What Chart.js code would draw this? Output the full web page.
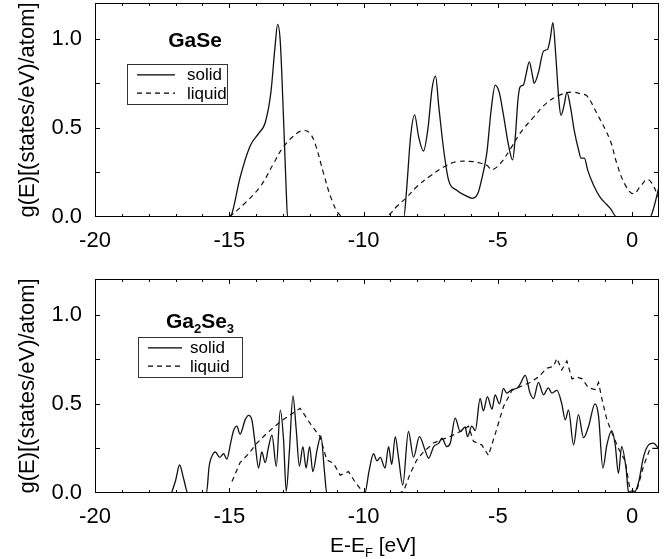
<!DOCTYPE html>
<html><head><meta charset="utf-8">
<script src="https://cdn.jsdelivr.net/npm/chart.js@4"></script>
<style>
html,body{margin:0;padding:0;background:#fff;}
#wrap{position:relative;width:672px;height:559px;overflow:hidden;}
canvas{position:absolute;left:0;}
</style></head><body>
<div id="wrap">
<canvas id="c1" width="672" height="250" style="top:0"></canvas>
<canvas id="c2" width="672" height="309" style="top:250px"></canvas>
</div>
<script>
// ---- tick labels / categories ----
const energyTicks = [-20, -15, -10, -5, 0];
const dosTicks = [0, 0.5, 1.0];
const seriesNames = ['solid', 'liquid'];
const yTitle = 'g(E)[(states/eV)/atom]';

// ---- GaSe, solid ----
const gaseSolidE = [-15.0,-14.9,-14.6,-14.22,-13.9,-13.66,-13.45,-13.3,-13.2,-13.1,-12.98,-12.88,-12.83,
  -8.5,-8.4,-8.25,-8.1,-7.95,-7.77,-7.6,-7.45,-7.32,-7.2,-7.02,-6.84,-6.53,-6.2,-5.95,-5.75,-5.62,-5.41,-5.25,-5.1,-4.95,-4.8,-4.6,-4.45,-4.35,-4.25,-4.17,-4.05,-3.95,-3.83,-3.72,-3.65,-3.49,-3.3,-3.15,-3.05,-2.95,-2.85,-2.72,-2.65,-2.53,-2.43,-2.3,-2.15,-2.0,-1.9,-1.78,-1.65,-1.44,-1.19,-0.95,-0.82,-0.57,
  0.67,0.8,1.0];
const gaseSolidG = [0,0.02,0.22,0.40,0.47,0.53,0.70,0.95,1.08,0.98,0.55,0.15,0,
  0,0.15,0.45,0.573,0.45,0.37,0.50,0.72,0.79,0.62,0.38,0.21,0.15,0.12,0.105,0.13,0.20,0.36,0.60,0.74,0.70,0.58,0.40,0.32,0.45,0.66,0.73,0.74,0.80,0.87,0.80,0.75,0.81,0.93,0.94,1.0,1.09,0.92,0.64,0.57,0.63,0.70,0.62,0.48,0.38,0.33,0.33,0.26,0.18,0.11,0.07,0.05,0,
  0,0.05,0.17];

// ---- GaSe, liquid ----
const gaseLiquidE = [-15.0,-14.47,-13.85,-13.35,-13.0,-12.48,-12.2,-12.0,-11.8,-11.49,-11.18,-10.87,-10.5,-9.2,-9.0,-8.76,-8.39,-8.02,-7.52,-7.02,-6.53,-5.91,-5.6,-5.41,-5.22,-4.91,-4.54,-4.17,-3.67,-3.18,-2.68,-2.25,-1.9,-1.69,-1.31,-0.82,-0.57,-0.26,0.05,0.3,0.55,0.73,0.98];
const gaseLiquidG = [0,0.07,0.17,0.30,0.39,0.47,0.485,0.47,0.41,0.245,0.095,0.01,0,0,0.02,0.06,0.11,0.17,0.23,0.28,0.31,0.31,0.30,0.29,0.265,0.30,0.38,0.47,0.56,0.64,0.685,0.70,0.69,0.68,0.58,0.43,0.30,0.18,0.13,0.17,0.21,0.19,0.11];

// ---- Ga2Se3, solid ----
const ga2se3SolidE = [-17.15,-17.0,-16.85,-16.7,-16.54,-15.85,-15.75,-15.6,-15.52,-15.36,-15.21,-15.09,-14.95,-14.84,-14.72,-14.6,-14.41,-14.28,-14.16,-14.04,-13.91,-13.79,-13.66,-13.55,-13.41,-13.25,-13.1,-12.98,-12.88,-12.76,-12.63,-12.51,-12.39,-12.26,-12.14,-12.01,-11.89,-11.72,-11.59,-11.45,-11.37,
  -9.95,-9.8,-9.63,-9.5,-9.38,-9.2,-9.07,-8.95,-8.82,-8.7,-8.54,-8.33,-8.14,-7.92,-7.71,-7.58,-7.39,-7.2,-7.08,-6.9,-6.77,-6.59,-6.4,-6.22,-6.13,-5.97,-5.84,-5.66,-5.54,-5.39,-5.22,-5.1,-4.94,-4.79,-4.67,-4.48,-4.29,-4.17,-3.98,-3.8,-3.67,-3.49,-3.3,-3.12,-2.99,-2.8,-2.62,-2.49,-2.37,-2.18,-2.0,-1.81,-1.63,-1.38,-1.25,-1.09,-0.94,-0.76,-0.63,-0.51,-0.39,-0.22,-0.14,0.05,0.24,0.42,0.61,0.79,0.98];
const ga2se3SolidG = [0,0.07,0.157,0.08,0,0,0.15,0.22,0.23,0.20,0.22,0.19,0.28,0.35,0.375,0.33,0.41,0.435,0.41,0.28,0.14,0.23,0.17,0.25,0.325,0.15,0.465,0.30,0.01,0.24,0.545,0.36,0.15,0.26,0.14,0.26,0.12,0.25,0.32,0.11,0,
  0,0.12,0.22,0.18,0.20,0.14,0.26,0.16,0.316,0.20,0.045,0.345,0.20,0.316,0.24,0.195,0.26,0.28,0.307,0.26,0.28,0.42,0.345,0.37,0.316,0.375,0.35,0.53,0.46,0.54,0.47,0.55,0.50,0.587,0.56,0.58,0.587,0.61,0.66,0.56,0.53,0.62,0.55,0.59,0.56,0.575,0.50,0.41,0.465,0.27,0.44,0.31,0.37,0.50,0.43,0.14,0.27,0.35,0.27,0.11,0.26,0.13,0.01,0,0.06,0.20,0.27,0.28,0.25];

// ---- Ga2Se3, liquid ----
const ga2se3LiquidE = [-14.9,-14.6,-14.28,-13.97,-13.6,-13.1,-12.61,-12.36,-11.99,-11.62,-11.37,-11.12,-10.87,-10.56,-10.31,-10.0,-8.7,-8.51,-8.26,-8.02,-7.77,-7.4,-7.08,-6.78,-6.4,-6.09,-5.91,-5.6,-5.35,-5.1,-4.79,-4.48,-4.11,-3.8,-3.49,-3.18,-2.93,-2.8,-2.62,-2.43,-2.24,-2.05,-1.86,-1.63,-1.38,-1.25,-1.13,-0.94,-0.76,-0.51,-0.26,-0.07,0.17,0.42,0.67,0.98];
const ga2se3LiquidG = [0.064,0.17,0.22,0.28,0.335,0.40,0.45,0.475,0.39,0.316,0.185,0.167,0.10,0.12,0.06,0,0,0.01,0.11,0.185,0.23,0.28,0.30,0.316,0.345,0.375,0.29,0.27,0.21,0.33,0.485,0.575,0.60,0.62,0.65,0.70,0.71,0.755,0.69,0.74,0.64,0.65,0.64,0.59,0.58,0.62,0.53,0.41,0.34,0.25,0.18,0.01,0.01,0.15,0.25,0.25];

const FONT = "'Liberation Sans', Arial, Helvetica, sans-serif";
Chart.defaults.font.family = FONT;
Chart.defaults.color = '#000';

function pts(E, G) { return E.map((e, i) => ({x: e, y: G[i]})); }

function drawRich(ctx, parts, cx, baseline, size, bold) {
  const w = parts.map(p => {
    ctx.font = (bold ? 'bold ' : '') + (p.sub ? size * 0.62 : size) + 'px ' + FONT;
    return ctx.measureText(p.t).width;
  });
  let x = cx - w.reduce((a, b) => a + b, 0) / 2;
  ctx.textAlign = 'left';
  ctx.textBaseline = 'alphabetic';
  parts.forEach((p, i) => {
    ctx.font = (bold ? 'bold ' : '') + (p.sub ? size * 0.62 : size) + 'px ' + FONT;
    ctx.fillText(p.t, x, baseline + (p.sub ? size * 0.22 : 0));
    x += w[i];
  });
}

const decor = {
  id: 'decor',
  afterDraw(chart, args, o) {
    const ctx = chart.ctx, a = chart.chartArea;
    const xs = chart.scales.x, ys = chart.scales.y;
    ctx.save();
    ctx.strokeStyle = '#000';
    ctx.fillStyle = '#000';
    ctx.lineWidth = 1;
    ctx.strokeRect(a.left + 0.5, a.top + 0.5, a.right - a.left - 1, a.bottom - a.top - 1);
    // inward ticks on all four sides
    ctx.beginPath();
    for (let v = -19; v <= 0; v++) {
      const len = energyTicks.includes(v) ? 5 : 3;
      const px = Math.round(xs.getPixelForValue(v)) + 0.5;
      ctx.moveTo(px, a.bottom); ctx.lineTo(px, a.bottom - len);
      ctx.moveTo(px, a.top); ctx.lineTo(px, a.top + len);
    }
    for (let v = 0.25; v < 1.2; v += 0.25) {
      const len = 5;
      const py = Math.round(ys.getPixelForValue(v)) + 0.5;
      ctx.moveTo(a.left, py); ctx.lineTo(a.left + len, py);
      ctx.moveTo(a.right, py); ctx.lineTo(a.right - len, py);
    }
    ctx.stroke();
    // panel label
    drawRich(ctx, o.label, o.labelX, o.labelY, 21, true);
    // legend box
    const L = o.legend;
    ctx.strokeStyle = '#333';
    ctx.strokeRect(L.x + 0.5, L.y + 0.5, L.w, L.h);
    ctx.strokeStyle = '#000';
    ctx.font = '17px ' + FONT;
    ctx.textAlign = 'left';
    ctx.textBaseline = 'middle';
    chart.data.datasets.forEach((ds, i) => {
      const yy = L.y + L.h * (i === 0 ? 0.27 : 0.73);
      ctx.lineWidth = 1.2;
      ctx.setLineDash(ds.borderDash || []);
      ctx.beginPath();
      ctx.moveTo(L.x + L.lineX0, yy); ctx.lineTo(L.x + L.lineX1, yy);
      ctx.stroke();
      ctx.setLineDash([]);
      ctx.fillText(ds.label, L.x + L.textX, yy + 1);
    });
    if (o.xTitle) {
      drawRich(ctx, [{t: 'E-E'}, {t: 'F', sub: true}, {t: ' [eV]'}], (a.left + a.right) / 2 - 4, o.xTitleY, 21, false);
    }
    ctx.restore();
  }
};

function makePanel(id, solid, liquid, padTop, xAxisH, deco) {
  return new Chart(document.getElementById(id), {
    type: 'scatter',
    data: {
      datasets: [
        {label: seriesNames[0], data: solid, showLine: true, borderColor: '#111', borderWidth: 1.3,
         pointRadius: 0, cubicInterpolationMode: 'monotone', fill: false},
        {label: seriesNames[1], data: liquid, showLine: true, borderColor: '#111', borderWidth: 1.2,
         borderDash: [5, 4], pointRadius: 0, tension: deco.liquidTension, fill: false}
      ]
    },
    options: {
      responsive: false,
      animation: false,
      layout: {padding: {top: padTop, left: 0, right: 13, bottom: 0}},
      plugins: {legend: {display: false}, tooltip: {enabled: false}, decor: deco},
      scales: {
        x: {
          type: 'linear', min: -20, max: 1,
          grid: {display: false, drawTicks: false},
          border: {display: false},
          afterBuildTicks: s => { s.ticks = energyTicks.map(v => ({value: v})); },
          afterFit: s => { s.height = xAxisH; s.paddingLeft = 0; s.paddingRight = 0; },
          ticks: {padding: 11, font: {size: 22}, color: '#000', maxRotation: 0,
                  callback: v => String(v)}
        },
        y: {
          type: 'linear', min: 0, max: 1.2,
          grid: {display: false, drawTicks: false},
          border: {display: false},
          afterBuildTicks: s => { s.ticks = dosTicks.map(v => ({value: v})); },
          afterFit: s => { s.width = 95; s.paddingTop = 0; s.paddingBottom = 0; },
          ticks: {padding: 13, font: {size: 22}, color: '#000', callback: v => Number(v).toFixed(1)},
          title: {display: true, text: yTitle, font: {size: 22}, color: '#000', padding: {top: 15, bottom: 0}}
        }
      }
    },
    plugins: [decor]
  });
}

makePanel('c1', pts(gaseSolidE, gaseSolidG), pts(gaseLiquidE, gaseLiquidG), 3, 33, {
  label: [{t: 'GaSe'}], labelX: 195, labelY: 47, liquidTension: 0.4,
  legend: {x: 127, y: 64, w: 100, h: 40, lineX0: 10, lineX1: 48, textX: 60}
});
makePanel('c2', pts(ga2se3SolidE, ga2se3SolidG), pts(ga2se3LiquidE, ga2se3LiquidG), 29, 66, {
  label: [{t: 'Ga'}, {t: '2', sub: true}, {t: 'Se'}, {t: '3', sub: true}], labelX: 200, labelY: 78, liquidTension: 0,
  legend: {x: 138, y: 87, w: 104, h: 40, lineX0: 10, lineX1: 44, textX: 52},
  xTitle: true, xTitleY: 302
});
</script>
</body></html>
